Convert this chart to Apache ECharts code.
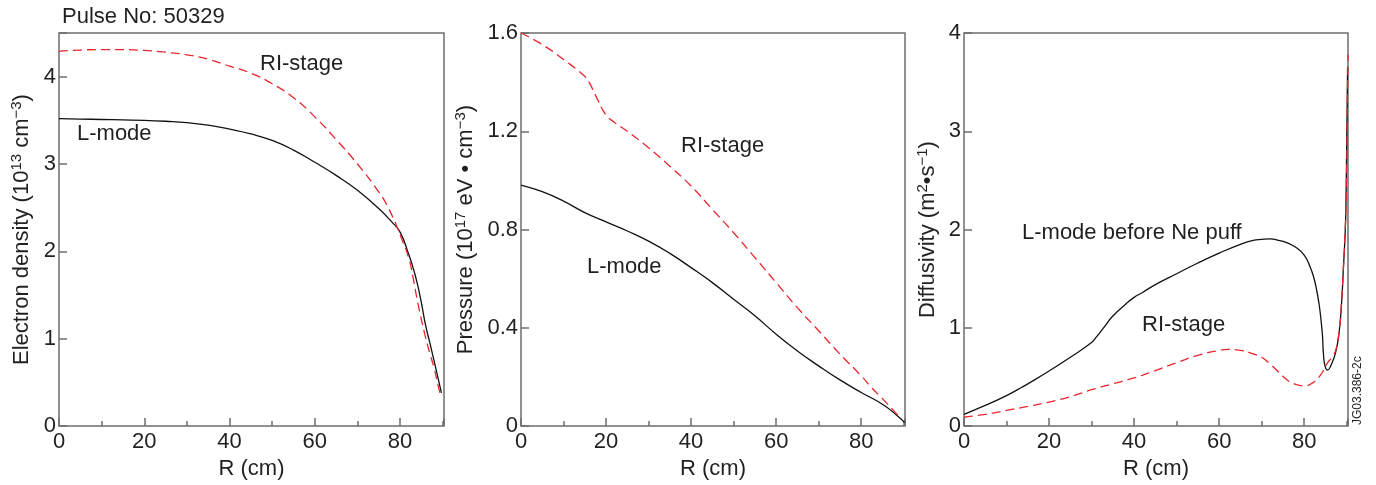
<!DOCTYPE html>
<html>
<head>
<meta charset="utf-8">
<script src="https://cdn.jsdelivr.net/npm/echarts@6/dist/echarts.min.js"></script>
<style>html,body{margin:0;padding:0;background:#fff;}#c{width:1376px;height:485px;}</style>
</head>
<body>
<div id="c"></div>
<script>
// ---- data (R in cm) ----
const densityLmode = [[0,3.52],[5,3.515],[10,3.51],[15,3.505],[20,3.50],[25,3.49],[30,3.475],[35,3.445],[40,3.40],[45,3.345],[50,3.27],[55,3.16],[60,3.02],[65,2.87],[70,2.70],[75,2.49],[78,2.34],[80,2.22],[82,1.97],[83,1.82],[84,1.64],[85,1.41],[86,1.15],[87,0.95],[88,0.74],[89,0.53],[89.7,0.38]];
const densityRI = [[0,4.29],[5,4.305],[10,4.31],[15,4.31],[20,4.30],[25,4.28],[30,4.25],[35,4.20],[40,4.12],[45,4.04],[50,3.92],[55,3.76],[60,3.54],[65,3.28],[70,3.00],[75,2.68],[77,2.52],[79.3,2.28],[80,2.19],[82,1.93],[83,1.71],[84,1.45],[85,1.22],[86,1.01],[87,0.83],[88,0.66],[89,0.45],[89.5,0.35]];
const pressureLmode = [[0,0.981],[5,0.954],[10,0.916],[15,0.869],[20,0.831],[25,0.794],[30,0.753],[35,0.703],[40,0.645],[45,0.584],[50,0.516],[55,0.449],[60,0.374],[65,0.306],[70,0.245],[75,0.188],[80,0.137],[85,0.089],[88,0.049],[90.2,0.015]];
const pressureRI = [[0,1.60],[5,1.553],[10,1.492],[15,1.424],[16,1.40],[18,1.33],[20,1.266],[22,1.236],[25,1.20],[30,1.133],[35,1.058],[40,0.977],[45,0.882],[50,0.787],[55,0.686],[60,0.584],[65,0.482],[70,0.388],[75,0.293],[80,0.205],[82.4,0.157],[85,0.112],[88,0.056],[89.5,0.03]];
const diffLmode = [[0,0.12],[5,0.21],[10,0.31],[12.8,0.376],[15,0.43],[20,0.56],[25,0.70],[30,0.85],[31,0.90],[33,1.01],[35,1.12],[38,1.24],[40,1.31],[42,1.36],[45,1.44],[50,1.55],[55,1.66],[60,1.76],[65,1.85],[68,1.89],[70,1.90],[72,1.905],[74,1.89],[76,1.865],[78,1.82],[80,1.74],[81.3,1.63],[82.2,1.52],[82.9,1.39],[83.5,1.24],[83.9,1.10],[84.3,0.92],[84.5,0.75],[84.9,0.61],[85.5,0.57],[86.4,0.63],[87.4,0.75],[88.2,0.95],[88.8,1.26],[89.2,1.59],[89.6,1.93],[89.8,2.2],[90.0,2.9],[90.2,3.64]];
const diffRI = [[0,0.09],[5,0.12],[10,0.16],[15,0.2],[20,0.245],[25,0.3],[30,0.37],[35,0.43],[40,0.49],[45,0.565],[50,0.645],[55,0.72],[60,0.77],[62,0.78],[65,0.77],[68,0.735],[70,0.70],[72,0.63],[74,0.55],[76,0.47],[78,0.425],[80,0.41],[82,0.44],[83.7,0.51],[85.6,0.65],[86.5,0.70],[87.4,0.77],[88.2,0.96],[88.8,1.27],[89.2,1.6],[89.6,1.95],[89.9,2.4],[90.1,3.1],[90.3,3.78]];

const xTicks = [0,20,40,60,80];
const yNames = [
  '{a|Electron density (10}{s|13}{a| cm}{s|\u22123}{a|)}',
  '{a|Pressure (10}{s|17}{a| eV \u2022 cm}{s|\u22123}{a|)}',
  '{a|Diffusivity (m}{s|2}{a|\u2022s}{s|\u22121}{a|)}'
];
const yMax = [4.5, 1.6, 4];
const yStep = [1, 0.4, 1];
const yGap = [24, 42, 23];

const FONT = '"Liberation Sans", Arial, Helvetica, sans-serif';
const TXT = '#231f20';
const FRAME = '#6d6e71';
const RED = '#e8262d';

const grids = [
  {left:59, top:33, width:385, height:395},
  {left:521, top:33, width:384, height:394},
  {left:964, top:33, width:384, height:394}
];

const xAxes = grids.map((g,i)=>({
  type:'value', gridIndex:i, min:0, max:90.3, interval:20,
  name:'R (cm)', nameLocation:'middle', nameGap:29,
  nameTextStyle:{fontSize:22, color:TXT, fontFamily:FONT},
  axisLine:{show:false},
  axisTick:{show:true, inside:true, length:8, lineStyle:{color:FRAME, width:1.5}},
  minorTick:{show:true, splitNumber:2, length:5, lineStyle:{color:FRAME, width:1.5}},
  splitLine:{show:false},
  axisLabel:{fontSize:22, color:TXT, fontFamily:FONT, margin:5,
    formatter:v=> xTicks.indexOf(Math.round(v*1000)/1000)>=0 ? String(v) : ''}
}));

const yAxes = grids.map((g,i)=>({
  type:'value', gridIndex:i, min:0, max:yMax[i], interval:yStep[i],
  name:yNames[i], nameLocation:'middle', nameGap:yGap[i], nameRotate:90,
  nameTextStyle:{color:TXT, fontFamily:FONT,
    rich:{a:{fontSize:22, color:TXT, fontFamily:FONT, lineHeight:26},
          s:{fontSize:15, color:TXT, fontFamily:FONT, verticalAlign:'top', lineHeight:15}}},
  axisLine:{show:false},
  axisTick:{show:true, inside:true, length:8, lineStyle:{color:FRAME, width:1.5}},
  splitLine:{show:false},
  axisLabel:{fontSize:22, color:TXT, fontFamily:FONT, margin:3,
    formatter:v=>{ const k = v/yStep[i]; return Math.abs(k-Math.round(k))<1e-6 ? String(Math.round(v*10)/10) : ''; }}
}));

function blk(data,i){return {type:'line', xAxisIndex:i, yAxisIndex:i, data, showSymbol:false, smooth:0.5, animation:false, lineStyle:{color:'#111', width:1.3}, z:3};}
function red(data,i){return {type:'line', xAxisIndex:i, yAxisIndex:i, data, showSymbol:false, smooth:0.5, animation:false, lineStyle:{color:RED, width:1.3, type:[9,5]}, z:4};}

function txt(x,y,s,size){return {type:'text', left:x, top:y, style:{text:s, fontSize:size||22, fontFamily:FONT, fill:TXT}};}

const chart = echarts.init(document.getElementById('c'), null, {renderer:'canvas'});
chart.setOption({
  backgroundColor:'#fff',
  animation:false,
  grid: grids.map(g=>Object.assign({show:true, borderColor:FRAME, borderWidth:1.5, backgroundColor:'transparent', containLabel:false}, g)),
  xAxis: xAxes,
  yAxis: yAxes,
  series:[
    blk(densityLmode,0), red(densityRI,0),
    blk(pressureLmode,1), red(pressureRI,1),
    blk(diffLmode,2), red(diffRI,2)
  ],
  graphic:[
    txt(62,6,'Pulse No: 50329'),
    txt(260,53,'RI-stage'),
    txt(77,123,'L-mode'),
    txt(681,135,'RI-stage'),
    txt(587,256,'L-mode'),
    txt(1022,222,'L-mode before Ne puff'),
    txt(1142,314,'RI-stage'),
    {type:'text', x:1352, y:425, rotation:Math.PI/2, style:{text:'JG03.386-2c', fontSize:12, fontFamily:FONT, fill:TXT, textVerticalAlign:'top'}}
  ]
});
</script>
</body>
</html>
